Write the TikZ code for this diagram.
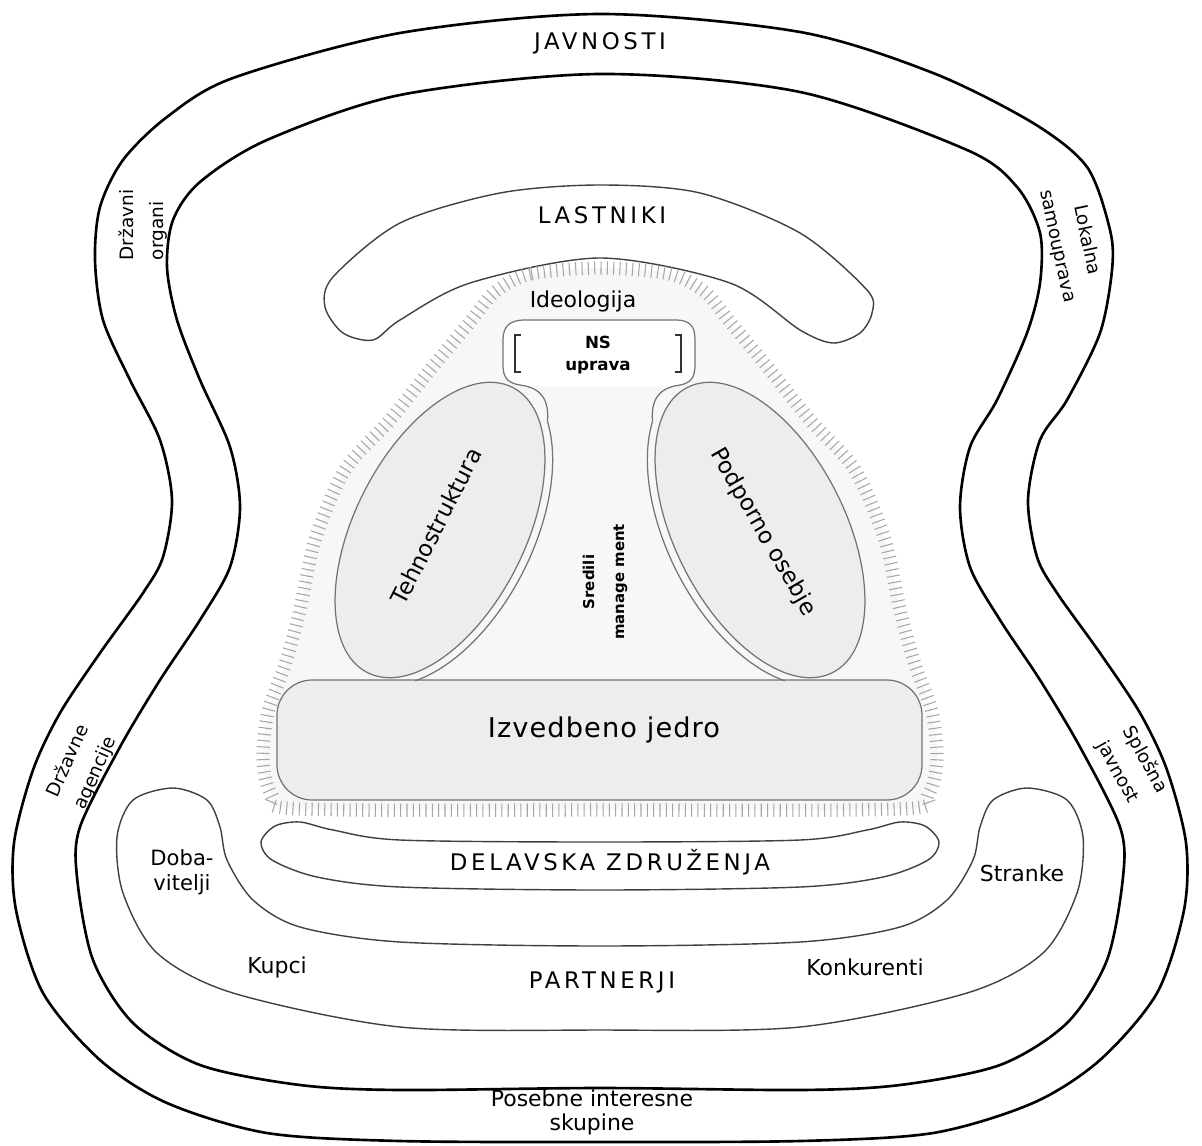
\documentclass[tikz,border=0pt]{standalone}
\usepackage{fontspec}
\setmainfont{DejaVu Sans}
\newfontfamily\capsfont[LetterSpace=16]{DejaVu Sans}
\newfontfamily\wideface[LetterSpace=4]{DejaVu Sans}
\usetikzlibrary{decorations.pathreplacing}
\newcommand{\fsz}[2]{\fontsize{#1pt}{#2pt}\selectfont}

\tikzset{
  ring/.style={draw=black, line width=1.5pt},
  band/.style={draw=black!75, line width=0.8pt},
  unit/.style={draw=black!55, line width=0.7pt},
  core/.style={unit, fill=black!7},
  bracket/.style={draw=black!80, line width=1.6pt},
  aura/.style={draw=black!35, line width=0.6pt, decorate,
    decoration={ticks, segment length=3.6pt, amplitude=3.8pt}},
  lbl/.style={inner sep=0pt, font=\fsz{12.5}{15}},
  caps/.style={inner sep=0pt, font=\capsfont\fsz{13}{15}},
  side/.style={inner sep=0pt, font=\fsz{10.5}{17}},
  bold/.style={inner sep=0pt, font=\bfseries\fsz{9.5}{13}}
}

\begin{document}
\begin{tikzpicture}[x=0.02cm, y=-0.02cm]
\useasboundingbox (0,0) rectangle (1202,1145);

% outer ring: the public
\draw[ring] plot[smooth cycle] coordinates {
  (600,14) (400,33) (233,78) (167,117) (123,160) (100,207) (95,260)
  (103,320) (130,380) (160,440) (172,500) (163,557) (143,593) (100,653)
  (60,713) (33,770) (14,843) (16,910) (43,993) (100,1060) (167,1103)
  (267,1133) (400,1141) (600,1142) (800,1141) (933,1133) (1033,1103)
  (1100,1060) (1157,993) (1184,910) (1186,843) (1167,770) (1140,713)
  (1100,653) (1057,593) (1037,557) (1028,500) (1040,440) (1067,400)
  (1100,333) (1112,270) (1110,230) (1087,167) (1033,123) (933,73) (800,32)};

% second ring
\draw[ring] plot[smooth cycle] coordinates {
  (600,74) (400,95) (267,140) (200,182) (173,220) (167,267) (177,320)
  (200,380) (230,447) (240,507) (230,567) (200,620) (160,680) (120,747)
  (80,827) (77,877) (93,960) (133,1023) (200,1065) (300,1085) (400,1090)
  (600,1088) (800,1090) (900,1085) (1000,1065) (1067,1023) (1107,960)
  (1123,877) (1120,827) (1080,747) (1040,680) (1000,620) (970,567)
  (960,507) (970,447) (997,400) (1027,333) (1040,283) (1040,233)
  (1017,187) (967,150) (800,92)};

% partners (horseshoe)
\draw[band] plot[smooth cycle] coordinates {
  (600,1030) (400,1027) (233,993) (157,953) (123,893) (117,837) (133,800)
  (173,788) (207,800) (220,827) (227,860) (253,900) (300,927) (400,942)
  (600,946) (800,942) (900,927) (947,900) (973,860) (980,827) (993,800)
  (1027,788) (1067,800) (1083,837) (1077,893) (1043,953) (967,993)
  (800,1027)};

% workers' associations
\draw[band] plot[smooth cycle] coordinates {
  (600,842) (400,840) (333,830) (300,822) (275,826) (261,842) (272,860)
  (317,877) (400,887) (600,890) (800,887) (883,877) (928,860) (939,842)
  (925,826) (900,822) (867,830) (800,840)};

% owners (arch)
\draw[band] plot[smooth cycle] coordinates {
  (600,185) (700,193) (800,233) (867,290) (872,313) (860,333) (833,343)
  (800,330) (730,283) (600,258) (470,283) (400,320) (373,340) (343,333)
  (325,307) (333,277) (400,223) (500,193)};

% ideology halo round the organisation
\fill[black!3] plot[smooth cycle] coordinates {
  (600,268) (530,274) (495,292) (470,322) (430,370) (390,420) (345,470)
  (315,540) (300,610) (285,665) (268,712) (263,760) (272,795) (300,809)
  (600,810) (900,809) (928,795) (937,760) (932,712) (915,665) (900,610)
  (885,540) (855,470) (810,420) (770,370) (730,322) (705,292) (670,274)};
\draw[aura] plot[smooth cycle] coordinates {
  (600,268) (530,274) (495,292) (470,322) (430,370) (390,420) (345,470)
  (315,540) (300,610) (285,665) (268,712) (263,760) (272,795) (300,809)
  (600,810) (900,809) (928,795) (937,760) (932,712) (915,665) (900,610)
  (885,540) (855,470) (810,420) (770,370) (730,322) (705,292) (670,274)};

% operating core
\draw[core, rounded corners=20pt] (277,680) rectangle (922,800);

% technostructure
\begin{scope}[shift={(440,530)}, rotate=63, x=0.02cm, y=0.02cm]
  \draw[core] (0,0) ellipse [x radius=160, y radius=85];
  \draw[unit] (-30:168 and 93) coordinate (tsTop)
    arc[start angle=-30, end angle=-150, x radius=168, y radius=93];
\end{scope}

% support staff
\begin{scope}[shift={(760,530)}, rotate=117, x=0.02cm, y=0.02cm]
  \draw[core] (0,0) ellipse [x radius=160, y radius=85];
  \draw[unit] (30:168 and 93) coordinate (psTop)
    arc[start angle=30, end angle=150, x radius=168, y radius=93];
\end{scope}

% strategic apex
\fill[white] (503,340) .. controls (503,326) and (510,320) .. (525,320)
  -- (675,320) .. controls (690,320) and (695,326) .. (695,340)
  -- (695,365) .. controls (695,380) and (690,385) .. (675,386)
  -- (525,386) .. controls (508,385) and (503,380) .. (503,365) -- cycle;
\draw[unit] (tsTop) .. controls (549,400) and (542,388) .. (520,385)
  .. controls (507,383) and (503,377) .. (503,365) -- (503,340)
  .. controls (503,326) and (510,320) .. (525,320) -- (675,320)
  .. controls (690,320) and (695,326) .. (695,340) -- (695,365)
  .. controls (695,377) and (691,383) .. (680,385)
  .. controls (658,388) and (651,400) .. (psTop);
\draw[bracket] (521,335) -- (515,335) -- (515,372) -- (521,372);
\draw[bracket] (675,335) -- (681,335) -- (681,372) -- (675,372);

% labels
\node[caps] (javnosti) at (600,43) {JAVNOSTI};
\node[caps] (lastniki) at (602,215) {LASTNIKI};
\node[lbl] (ideologija) at (583,301) {Ideologija};
\node[bold, align=center] (apex) at (598,355) {NS\\uprava};
\node[lbl, font=\fsz{13}{15}, rotate=63] (tehno) at (436,526) {Tehnostruktura};
\node[lbl, font=\fsz{13}{15}, rotate=-60] (podporno) at (763,532) {Podporno osebje};
\node[bold, font=\bfseries\fsz{8.5}{17}, align=center, rotate=90] (srednji) at (605,582) {Sredili\\manage ment};
\node[lbl, font=\wideface\fsz{15.5}{18}] (jedro) at (604,730) {Izvedbeno jedro};
\node[caps] (delavska) at (610,862) {DELAVSKA ZDRUŽENJA};
\node[lbl, align=center, font=\fsz{12}{14}] (dobavitelji) at (182,872) {Doba-\\vitelji};
\node[lbl] (kupci) at (277,967) {Kupci};
\node[caps] (partnerji) at (602,982) {PARTNERJI};
\node[lbl] (konkurenti) at (865,967) {Konkurenti};
\node[lbl] (stranke) at (1022,873) {Stranke};
\node[lbl, align=center, font=\fsz{12.5}{13.6}] (posebne) at (592,1112) {Posebne interesne\\skupine};
\node[side, align=left, rotate=90] (drzavni) at (143,225) {Državni\\organi};
\node[side, align=center, rotate=-78] (lokalna) at (1072,243) {Lokalna\\samouprava};
\node[side, align=left, rotate=66] (agencije) at (82,767) {Državne\\agencije};
\node[side, align=left, rotate=-61] (splosna) at (1132,767) {Splošna\\javnost};
\end{tikzpicture}
\end{document}
